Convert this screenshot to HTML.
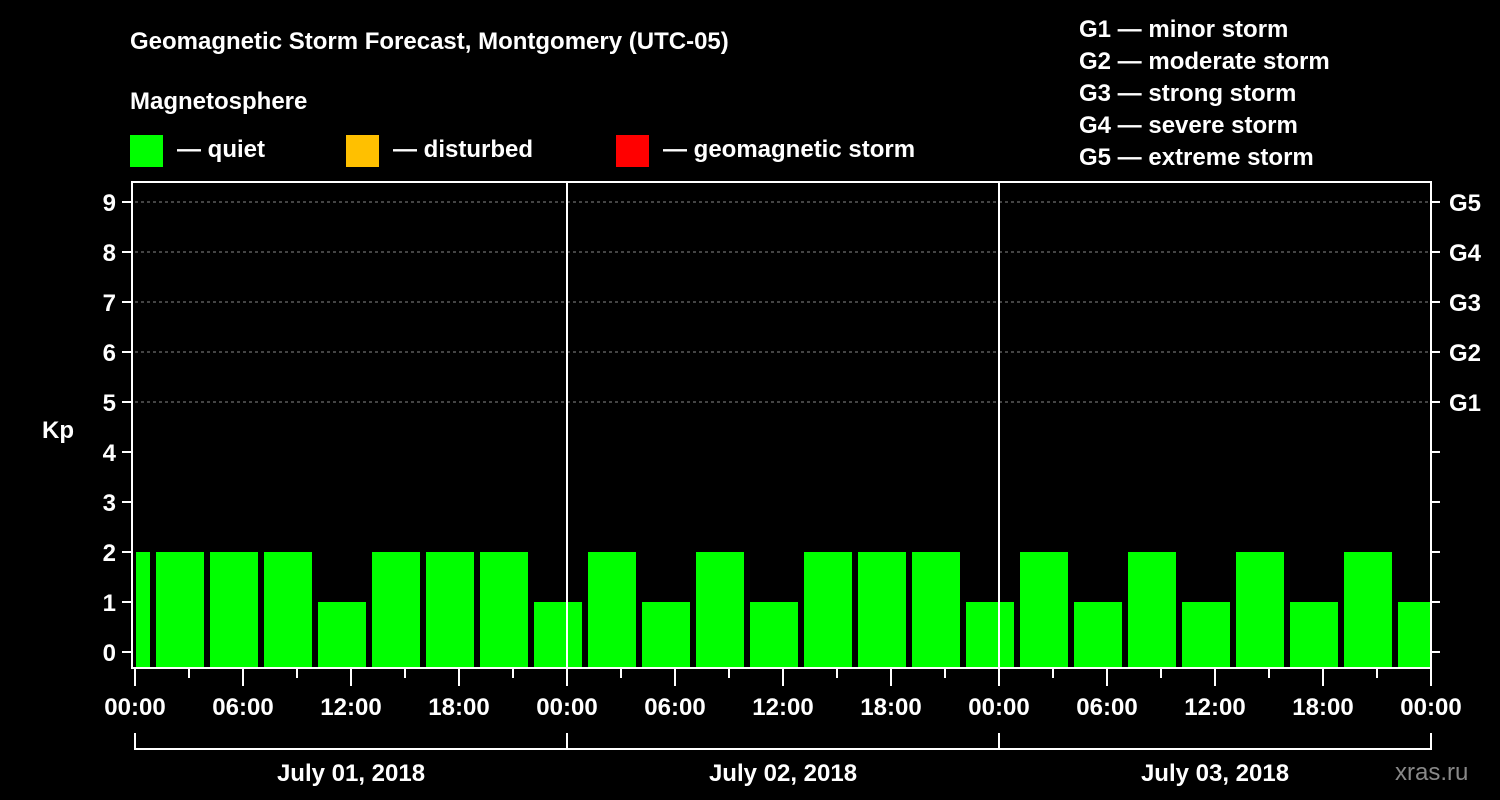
<!DOCTYPE html>
<html><head><meta charset="utf-8"><style>
body{margin:0;background:#000;width:1500px;height:800px;overflow:hidden}
svg{display:block}
text{font-family:"Liberation Sans",sans-serif;font-weight:bold;fill:#fff}
</style></head><body>
<svg id="c" width="1500" height="800">
<text x="130" y="49" font-size="24">Geomagnetic Storm Forecast, Montgomery (UTC-05)</text>
<text x="130" y="109" font-size="24">Magnetosphere</text>
<rect x="130" y="135" width="33" height="32" fill="#00ff00"/>
<text x="177" y="157" font-size="24">— quiet</text>
<rect x="346" y="135" width="33" height="32" fill="#ffc000"/>
<text x="393" y="157" font-size="24">— disturbed</text>
<rect x="616" y="135" width="33" height="32" fill="#ff0000"/>
<text x="663" y="157" font-size="24">— geomagnetic storm</text>
<g font-size="24">
<text x="1079" y="37">G1 — minor storm</text>
<text x="1079" y="69">G2 — moderate storm</text>
<text x="1079" y="101">G3 — strong storm</text>
<text x="1079" y="133">G4 — severe storm</text>
<text x="1079" y="165">G5 — extreme storm</text>
</g>
<text x="42" y="438" font-size="24">Kp</text>
<text x="1395" y="780" font-size="24" fill="#888" style="fill:#888;font-weight:normal">xras.ru</text>
<g id="plot"></g>
</svg>
<script>
const kpValues=[2,2,2,2,1,2,2,2,1,2,1,2,1,2,2,2,1,2,1,2,1,2,1,2,1];
const startHour=-2;
const yTicks=[0,1,2,3,4,5,6,7,8,9];
const gLabels=["G1","G2","G3","G4","G5"];
const gLevels=[5,6,7,8,9];
const dayLabels=["July 01, 2018","July 02, 2018","July 03, 2018"];
const xTickLabels=["00:00","06:00","12:00","18:00"];
const X0=135,PXH=18,Y0=652,PXK=50,TOP=182,BOT=668,RIGHT=1431;
const xs=h=>X0+h*PXH, ys=k=>Y0-k*PXK;
const ns="http://www.w3.org/2000/svg", g=document.getElementById('plot');
function mk(t,a){const e=document.createElementNS(ns,t);for(const k in a)e.setAttribute(k,a[k]);g.appendChild(e);return e;}
// grid
gLevels.forEach((k,i)=>{
const l=mk('line',{x1:X0,x2:RIGHT,y1:ys(k),y2:ys(k),stroke:'#888','stroke-dasharray':'3,3','stroke-width':1});


const t=mk('text',{x:1449,y:ys(k)+9,'font-size':24});t.textContent=gLabels[i];


});
// bars
kpValues.forEach((v,i)=>{
let a=xs(startHour+i*3)+3,b=xs(startHour+i*3+3)-3;
a=Math.max(a,X0+1);b=Math.min(b,RIGHT-1);
const r=mk('rect',{x:a,y:ys(v),width:b-a,height:BOT-1-ys(v),fill:'#00ff00'});


});
// frame
const f=mk('rect',{x:132,y:TOP,width:RIGHT-132,height:BOT-TOP,fill:'none',stroke:'#fff','stroke-width':2});


// y ticks
yTicks.forEach(k=>{
mk('line',{x1:122,x2:131,y1:ys(k),y2:ys(k),stroke:'#fff','stroke-width':2});
mk('line',{x1:RIGHT,x2:RIGHT+9,y1:ys(k),y2:ys(k),stroke:'#fff','stroke-width':2});
const t=mk('text',{x:116,y:ys(k)+9,'font-size':24,'text-anchor':'end'});t.textContent=k;


});
// day separators, x ticks
for(let d=0;d<3;d++){
if(d>0){const s=mk('line',{x1:xs(d*24),x2:xs(d*24),y1:TOP,y2:BOT,stroke:'#fff','stroke-width':2});

}
const br=mk('path',{d:`M${xs(d*24)},733V749H${xs(d*24+24)}V733`,stroke:'#fff','stroke-width':2,fill:'none'});


const dl=mk('text',{x:xs(d*24+12),y:781,'font-size':24,'text-anchor':'middle'});dl.textContent=dayLabels[d];


}
for(let h=0;h<=72;h+=3){
const major=h%6===0;
mk('line',{x1:xs(h),x2:xs(h),y1:BOT,y2:major?686:678,stroke:'#fff','stroke-width':2});
if(major){const t=mk('text',{x:xs(h),y:715,'font-size':24,'text-anchor':'middle'});t.textContent=xTickLabels[(h%24)/6];

}
}
</script>
</body></html>
